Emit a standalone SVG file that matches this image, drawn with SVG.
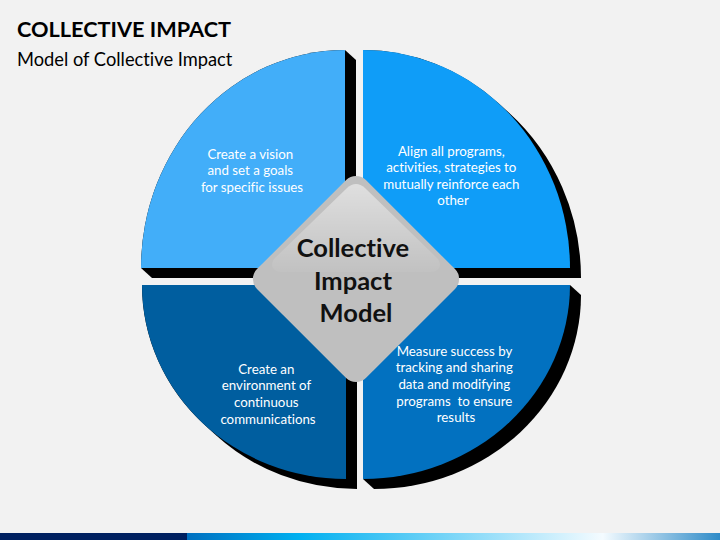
<svg xmlns="http://www.w3.org/2000/svg" width="720" height="540" viewBox="0 0 720 540">
  <defs>
    <style>
      text { font-variant-ligatures: none; }
      .title { font-family: Lato, "Liberation Sans", sans-serif; font-weight: bold; font-size: 21.7px; fill: #000; }
      .sub { font-family: Lato, "Liberation Sans", sans-serif; font-size: 18.3px; fill: #000; }
      .body { font-family: Lato, "Liberation Sans", sans-serif; font-size: 13.3px; fill: #fff; text-anchor: middle; }
      .center { font-family: Lato, "Liberation Sans", sans-serif; font-weight: bold; font-size: 25.5px; fill: #111; text-anchor: middle; }
      .shadow { fill: #000; }
    </style>
    <linearGradient id="bar" x1="0" y1="0" x2="1" y2="0">
      <stop offset="0" stop-color="#0070C0"/>
      <stop offset="0.21" stop-color="#00B0F0"/>
      <stop offset="0.78" stop-color="#F4FBFF"/>
      <stop offset="1" stop-color="#2E8BC8"/>
    </linearGradient>
    <linearGradient id="gloss" x1="0" y1="0" x2="0" y2="1">
      <stop offset="0" stop-color="#fff" stop-opacity="0.5"/>
      <stop offset="1" stop-color="#fff" stop-opacity="0.04"/>
    </linearGradient>
  </defs>

  <rect width="720" height="540" fill="#F2F2F2"/>

  <text class="title" x="17" y="36.5">COLLECTIVE IMPACT</text>
  <text class="sub" x="17" y="65.5">Model of Collective Impact</text>

  <g id="q-top-left">
    <path class="shadow" d="M141,268 A204,218 0 0 1 345,50 L356,60 L356,278 L152,278 Z"/>
    <path fill="#42AEF9" d="M345,268 L141,268 A204,218 0 0 1 345,50 Z"/>
    <text class="body">
      <tspan x="252" y="158.5">Create a vision</tspan>
      <tspan x="252" y="175.2">and set a goals</tspan>
      <tspan x="252" y="191.9">for specific issues</tspan>
    </text>
  </g>

  <g id="q-top-right">
    <path class="shadow" d="M363,268 L363,50 A207,218 0 0 1 498.3,103 L509.3,113 A207,218 0 0 1 581,278 L374,278 Z"/>
    <path fill="#0F9DF8" d="M363,268 L363,50 A207,218 0 0 1 570,268 Z"/>
    <text class="body">
      <tspan x="453" y="155.5">Align all programs,</tspan>
      <tspan x="453" y="172">activities, strategies to</tspan>
      <tspan x="453" y="188.5">mutually reinforce each</tspan>
      <tspan x="453" y="205">other</tspan>
    </text>
  </g>

  <g id="q-bottom-left">
    <path class="shadow" d="M346,285 L142,285 A204,194 0 0 0 205,425.3 L216,435.3 A204,194 0 0 0 357,489 L357,295 Z"/>
    <path fill="#005E9F" d="M346,285 L142,285 A204,194 0 0 0 346,479 Z"/>
    <text class="body">
      <tspan x="268" y="373.5">Create an</tspan>
      <tspan x="268" y="390.2">environment of</tspan>
      <tspan x="268" y="406.9">continuous</tspan>
      <tspan x="268" y="423.6">communications</tspan>
    </text>
  </g>

  <g id="q-bottom-right">
    <path class="shadow" d="M363,479 L363,285 L570,285 L581,295 A207,194 0 0 1 374,489 Z"/>
    <path fill="#0271C0" d="M363,285 L570,285 A207,194 0 0 1 363,479 Z"/>
    <text class="body">
      <tspan x="456" y="355.5">Measure success by</tspan>
      <tspan x="456" y="372.2">tracking and sharing</tspan>
      <tspan x="456" y="388.9">data and modifying</tspan>
      <tspan x="456" y="405.6" xml:space="preserve">programs  to ensure</tspan>
      <tspan x="456" y="422.3">results</tspan>
    </text>
  </g>

  <g id="center-node" transform="translate(356,279)">
    <rect x="-77" y="-77" width="154" height="154" rx="14" transform="rotate(45)" fill="#BFBFBF"/>
    <path fill="url(#gloss)" d="M-9,-91 Q0,-99 9,-91 L82,-20 Q88,-10 76,-7 L-76,-7 Q-88,-10 -82,-20 Z"/>
    <text class="center">
      <tspan x="0" y="-22">Collective</tspan>
      <tspan x="0" y="10.5">Impact</tspan>
      <tspan x="0" y="43">Model</tspan>
    </text>
  </g>

  <g id="footer-bar">
    <rect x="0" y="533" width="187" height="7" fill="#002060"/>
    <rect x="187" y="533" width="533" height="7" fill="url(#bar)"/>
  </g>
</svg>
